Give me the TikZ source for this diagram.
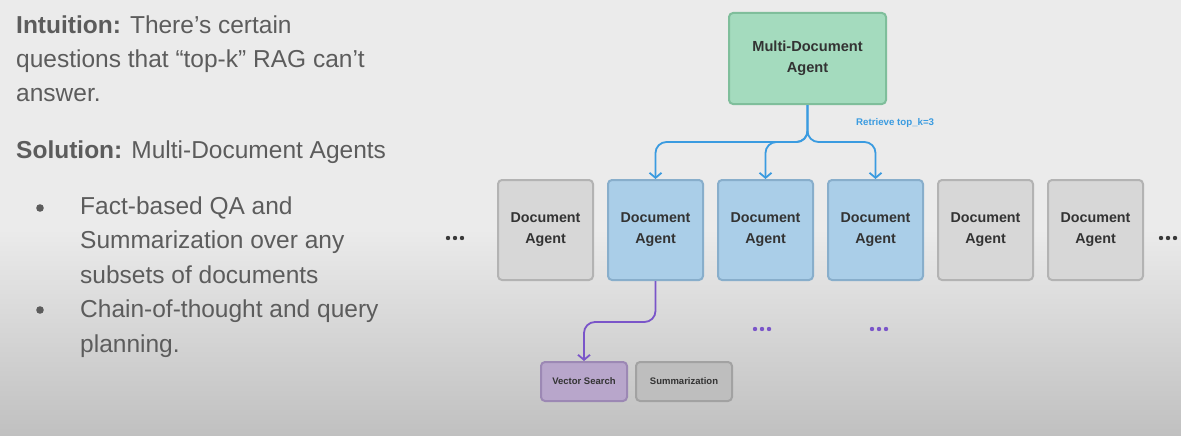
\documentclass[tikz,border=0pt]{standalone}
\usepackage{fontspec}
\setmainfont{Liberation Sans}
\usetikzlibrary{arrows.meta}
\definecolor{bgtop}{HTML}{EBEBEB}
\definecolor{bgbot}{HTML}{C0C0C0}
\definecolor{txt}{HTML}{5C5C5C}
\definecolor{boxtxt}{HTML}{333333}
\definecolor{greenfill}{HTML}{A4DBBE}
\definecolor{greenline}{HTML}{7FBE9B}
\definecolor{bluefill}{HTML}{AACEE8}
\definecolor{blueline}{HTML}{88AECB}
\definecolor{grayfill}{HTML}{D7D7D7}
\definecolor{grayline}{HTML}{B3B3B3}
\definecolor{purplefill}{HTML}{B8A6CB}
\definecolor{purpleline}{HTML}{9C88B4}
\definecolor{sumfill}{HTML}{BEBEBE}
\definecolor{sumline}{HTML}{A2A2A2}
\definecolor{arrowblue}{HTML}{3A9BE0}
\definecolor{arrowpurple}{HTML}{7A55C9}
\definecolor{dotgray}{HTML}{3A3A3A}
\tikzset{
  agentbox/.style={draw, line width=2pt, rounded corners=4pt, minimum width=95pt, minimum height=100pt,
    align=center, text=boxtxt, font=\fontsize{14.3}{21}\selectfont\bfseries, inner sep=0pt},
  bluebox/.style={agentbox, fill=bluefill, draw=blueline},
  graybox/.style={agentbox, fill=grayfill, draw=grayline},
  smallbox/.style={draw, line width=2pt, rounded corners=4pt, minimum height=39pt,
    text=boxtxt, font=\fontsize{9.5}{11}\selectfont\bfseries, inner sep=0pt},
  barrow/.style={draw=arrowblue, line width=1.8pt, rounded corners=11pt, -{Straight Barb[length=5pt,width=12pt,line width=1.8pt]}},
  parrow/.style={draw=arrowpurple, line width=1.8pt, rounded corners=11pt, -{Straight Barb[length=5pt,width=12pt,line width=1.8pt]}},
  lefttxt/.style={anchor=base west, inner sep=0pt, text=txt, font=\fontsize{24.5}{28}\selectfont},
}
\begin{document}
\begin{tikzpicture}[x=1pt,y=-1pt]
\useasboundingbox (0,0) rectangle (1181,436);
\fill[bgtop] (0,0) rectangle (1181,230);
\shade[top color=bgtop, bottom color=bgbot] (0,229) rectangle (1181,436);

% left text
\node[lefttxt] (l1) at (16,34) {\textbf{Intuition:} There’s certain};
\node[lefttxt] (l2) at (16,68) {questions that “top-k” RAG can’t};
\node[lefttxt] (l3) at (16,102) {answer.};
\node[lefttxt] (l4) at (16,158) {\textbf{Solution:} Multi-Document Agents};
\node[lefttxt] (b1) at (80,214) {Fact-based QA and};
\node[lefttxt] (b2) at (80,248) {Summarization over any};
\node[lefttxt] (b3) at (80,283) {subsets of documents};
\node[lefttxt] (b4) at (80,317) {Chain-of-thought and query};
\node[lefttxt] (b5) at (80,352) {planning.};
\fill[txt] (40,208) circle (3.8pt);
\fill[txt] (40,310) circle (3.8pt);

% top node
\node[agentbox, fill=greenfill, draw=greenline, minimum width=157pt, minimum height=91pt,
  font=\fontsize{14.6}{21}\selectfont\bfseries] (multi) at (807.5,58.5) {Multi-Document\\Agent};

% document agents
\node[graybox] (d1) at (545.5,230) {Document\\Agent};
\node[bluebox] (d2) at (655.5,230) {Document\\Agent};
\node[bluebox] (d3) at (765.5,230) {Document\\Agent};
\node[bluebox] (d4) at (875.5,230) {Document\\Agent};
\node[graybox] (d5) at (985.5,230) {Document\\Agent};
\node[graybox] (d6) at (1095.5,230) {Document\\Agent};

% tool nodes
\node[smallbox, minimum width=86pt, fill=purplefill, draw=purpleline] (vs) at (584,381.5) {Vector Search};
\node[smallbox, minimum width=96pt, fill=sumfill, draw=sumline] (sum) at (684,381.5) {Summarization};

% blue connectors
\coordinate (j) at (807.5,142);
\draw[barrow] (multi.south) -- (j) -- (j -| d2.north) -- (d2.north);
\draw[barrow] (multi.south) -- (j) -- (j -| d3.north) -- (d3.north);
\draw[barrow] (multi.south) -- (j) -- (j -| d4.north) -- (d4.north);
\node[text=arrowblue, font=\fontsize{9.7}{11}\selectfont\bfseries, anchor=west, inner sep=0pt] (lbl) at (856,123) {Retrieve top\_k=3};

% purple connector
\coordinate (pj) at (655.5,322);
\draw[parrow] (d2.south) -- (pj) -- (pj -| vs.north) -- (vs.north);

% ellipses
\foreach \x in {448,455,462} \fill[dotgray] (\x,238) circle (2.2pt);
\foreach \x in {1161,1168,1175} \fill[dotgray] (\x,238) circle (2.2pt);
\foreach \x in {755,762,769} \fill[arrowpurple] (\x,329) circle (2.2pt);
\foreach \x in {872,879,886} \fill[arrowpurple] (\x,329) circle (2.2pt);
\end{tikzpicture}
\end{document}
